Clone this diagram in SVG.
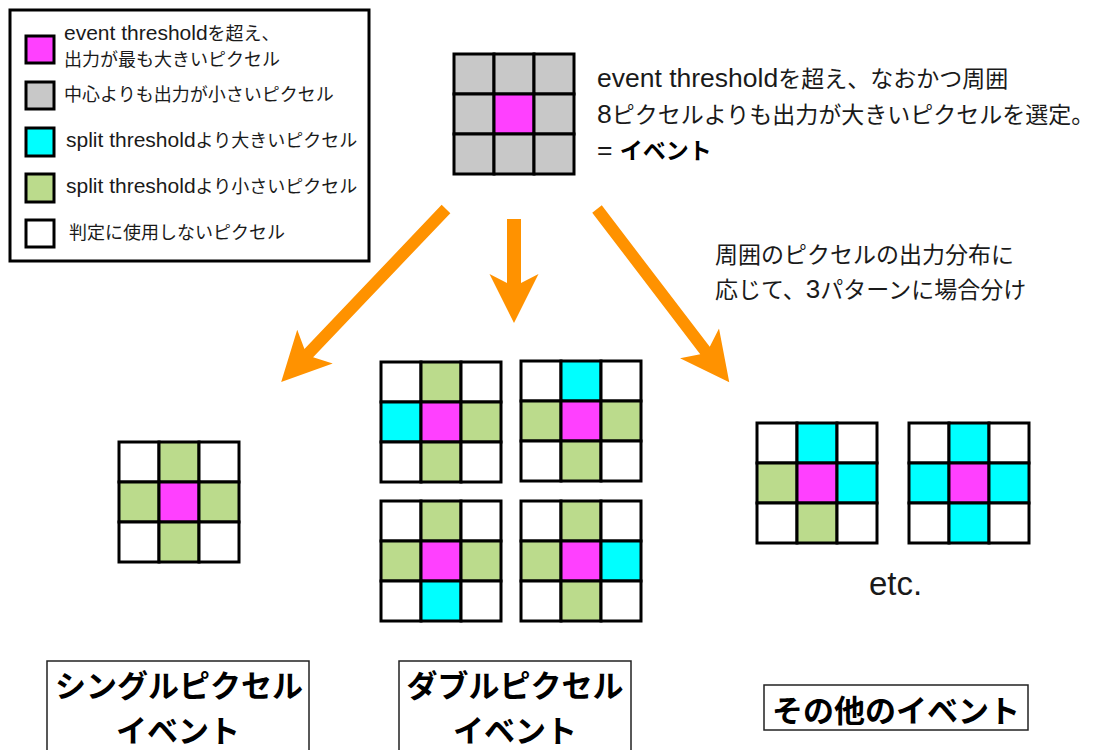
<svg xmlns="http://www.w3.org/2000/svg" width="1093" height="750" viewBox="0 0 1093 750">
<style>
.w{fill:#ffffff}.g{fill:#bbdb8c}.c{fill:#00ffff}.m{fill:#ff40ff}.k{fill:#c8c8c8}
.cell rect{stroke:#000;stroke-width:3}
.sw{stroke:#000;stroke-width:3}
.jp{font-family:"Noto Sans CJK JP","Noto Sans CJK SC",sans-serif;fill:#1a1a1a}
.lat{font-family:"Liberation Sans",Arial,sans-serif}
.lg{font-size:18px}
.lg .lat{font-size:21px}
.tx{font-size:23px}
.tx .lat{font-size:26px}
.ev{font-size:23px}
.ev .lat{font-size:26.5px}
.lab{font-size:31px;font-weight:bold;fill:#000;text-anchor:middle}
.box{fill:#fff;stroke:#222;stroke-width:1.5}
.arr{fill:#ff9200}
</style>

<g id="legend">
  <rect x="10" y="10" width="359" height="251" fill="#fff" stroke="#000" stroke-width="3"/>
  <rect class="sw m" x="26" y="36" width="28" height="27"/>
  <rect class="sw k" x="26" y="82" width="28" height="27"/>
  <rect class="sw c" x="26" y="128" width="28" height="28"/>
  <rect class="sw g" x="26" y="174" width="28" height="28"/>
  <rect class="sw w" x="26" y="220" width="28" height="27"/>
  <text class="jp lg" x="64" y="40"><tspan class="lat">event threshold</tspan>を超え、</text>
  <text class="jp lg" x="64" y="66">出力が最も大きいピクセル</text>
  <text class="jp lg" x="64" y="101">中心よりも出力が小さいピクセル</text>
  <text class="jp lg" x="66" y="147"><tspan class="lat">split threshold</tspan>より大きいピクセル</text>
  <text class="jp lg" x="66" y="193"><tspan class="lat">split threshold</tspan>より小さいピクセル</text>
  <text class="jp lg" x="69" y="239">判定に使用しないピクセル</text>
</g>

<g id="event-grid" class="cell" transform="translate(454,54)">
  <rect class="k" x="0" y="0" width="40" height="40"/><rect class="k" x="40" y="0" width="40" height="40"/><rect class="k" x="80" y="0" width="40" height="40"/>
  <rect class="k" x="0" y="40" width="40" height="40"/><rect class="m" x="40" y="40" width="40" height="40"/><rect class="k" x="80" y="40" width="40" height="40"/>
  <rect class="k" x="0" y="80" width="40" height="40"/><rect class="k" x="40" y="80" width="40" height="40"/><rect class="k" x="80" y="80" width="40" height="40"/>
</g>

<g id="event-text">
  <text class="jp ev" x="597" y="87"><tspan class="lat">event threshold</tspan>を超え、なおかつ周囲</text>
  <text class="jp ev" x="597" y="123"><tspan class="lat">8</tspan>ピクセルよりも出力が大きいピクセルを選定。</text>
  <text class="jp ev" x="597" y="159"><tspan class="lat">= </tspan><tspan font-weight="bold" fill="#000">イベント</tspan></text>
</g>

<g id="split-text">
  <text class="jp tx" x="715" y="263">周囲のピクセルの出力分布に</text>
  <text class="jp tx" x="715" y="298">応じて、<tspan class="lat">3</tspan>パターンに場合分け</text>
</g>

<g id="connectors">
  <path class="arr" transform="translate(446,209) rotate(133.6)" d="M0,-6 L199,-6 L190,-24.5 L239,0 L190,24.5 L199,6 L0,6 Z"/>
  <path class="arr" transform="translate(514,219) rotate(90)" d="M0,-7 L64,-7 L55,-24.5 L104,0 L55,24.5 L64,7 L0,7 Z"/>
  <path class="arr" transform="translate(597,209) rotate(52.65)" d="M0,-6 L178,-6 L169,-24.5 L218,0 L169,24.5 L178,6 L0,6 Z"/>
</g>

<g id="single-grid" class="cell" transform="translate(119,442)">
  <rect class="w" x="0" y="0" width="40" height="40"/><rect class="g" x="40" y="0" width="40" height="40"/><rect class="w" x="80" y="0" width="40" height="40"/>
  <rect class="g" x="0" y="40" width="40" height="40"/><rect class="m" x="40" y="40" width="40" height="40"/><rect class="g" x="80" y="40" width="40" height="40"/>
  <rect class="w" x="0" y="80" width="40" height="40"/><rect class="g" x="40" y="80" width="40" height="40"/><rect class="w" x="80" y="80" width="40" height="40"/>
</g>

<g id="double-grid-a" class="cell" transform="translate(381,362)">
  <rect class="w" x="0" y="0" width="40" height="40"/><rect class="g" x="40" y="0" width="40" height="40"/><rect class="w" x="80" y="0" width="40" height="40"/>
  <rect class="c" x="0" y="40" width="40" height="40"/><rect class="m" x="40" y="40" width="40" height="40"/><rect class="g" x="80" y="40" width="40" height="40"/>
  <rect class="w" x="0" y="80" width="40" height="40"/><rect class="g" x="40" y="80" width="40" height="40"/><rect class="w" x="80" y="80" width="40" height="40"/>
</g>
<g id="double-grid-b" class="cell" transform="translate(521,361)">
  <rect class="w" x="0" y="0" width="40" height="40"/><rect class="c" x="40" y="0" width="40" height="40"/><rect class="w" x="80" y="0" width="40" height="40"/>
  <rect class="g" x="0" y="40" width="40" height="40"/><rect class="m" x="40" y="40" width="40" height="40"/><rect class="g" x="80" y="40" width="40" height="40"/>
  <rect class="w" x="0" y="80" width="40" height="40"/><rect class="g" x="40" y="80" width="40" height="40"/><rect class="w" x="80" y="80" width="40" height="40"/>
</g>
<g id="double-grid-c" class="cell" transform="translate(381,501)">
  <rect class="w" x="0" y="0" width="40" height="40"/><rect class="g" x="40" y="0" width="40" height="40"/><rect class="w" x="80" y="0" width="40" height="40"/>
  <rect class="g" x="0" y="40" width="40" height="40"/><rect class="m" x="40" y="40" width="40" height="40"/><rect class="g" x="80" y="40" width="40" height="40"/>
  <rect class="w" x="0" y="80" width="40" height="40"/><rect class="c" x="40" y="80" width="40" height="40"/><rect class="w" x="80" y="80" width="40" height="40"/>
</g>
<g id="double-grid-d" class="cell" transform="translate(521,501)">
  <rect class="w" x="0" y="0" width="40" height="40"/><rect class="g" x="40" y="0" width="40" height="40"/><rect class="w" x="80" y="0" width="40" height="40"/>
  <rect class="g" x="0" y="40" width="40" height="40"/><rect class="m" x="40" y="40" width="40" height="40"/><rect class="c" x="80" y="40" width="40" height="40"/>
  <rect class="w" x="0" y="80" width="40" height="40"/><rect class="g" x="40" y="80" width="40" height="40"/><rect class="w" x="80" y="80" width="40" height="40"/>
</g>

<g id="other-grid-a" class="cell" transform="translate(757,423)">
  <rect class="w" x="0" y="0" width="40" height="40"/><rect class="c" x="40" y="0" width="40" height="40"/><rect class="w" x="80" y="0" width="40" height="40"/>
  <rect class="g" x="0" y="40" width="40" height="40"/><rect class="m" x="40" y="40" width="40" height="40"/><rect class="c" x="80" y="40" width="40" height="40"/>
  <rect class="w" x="0" y="80" width="40" height="40"/><rect class="g" x="40" y="80" width="40" height="40"/><rect class="w" x="80" y="80" width="40" height="40"/>
</g>
<g id="other-grid-b" class="cell" transform="translate(909,423)">
  <rect class="w" x="0" y="0" width="40" height="40"/><rect class="c" x="40" y="0" width="40" height="40"/><rect class="w" x="80" y="0" width="40" height="40"/>
  <rect class="c" x="0" y="40" width="40" height="40"/><rect class="m" x="40" y="40" width="40" height="40"/><rect class="c" x="80" y="40" width="40" height="40"/>
  <rect class="w" x="0" y="80" width="40" height="40"/><rect class="c" x="40" y="80" width="40" height="40"/><rect class="w" x="80" y="80" width="40" height="40"/>
</g>
<g id="etc">
  <text class="lat" x="869" y="595" font-size="33" fill="#1a1a1a">etc.</text>
</g>

<g id="label-single">
  <rect class="box" x="47" y="661" width="262" height="110"/>
  <text class="jp lab" x="179" y="697">シングルピクセル</text>
  <text class="jp lab" x="178" y="742">イベント</text>
</g>
<g id="label-double">
  <rect class="box" x="399" y="661" width="232" height="110"/>
  <text class="jp lab" x="515" y="697">ダブルピクセル</text>
  <text class="jp lab" x="515" y="742">イベント</text>
</g>
<g id="label-other">
  <rect class="box" x="764" y="685" width="264" height="45"/>
  <text class="jp lab" x="896" y="722">その他のイベント</text>
</g>
</svg>
